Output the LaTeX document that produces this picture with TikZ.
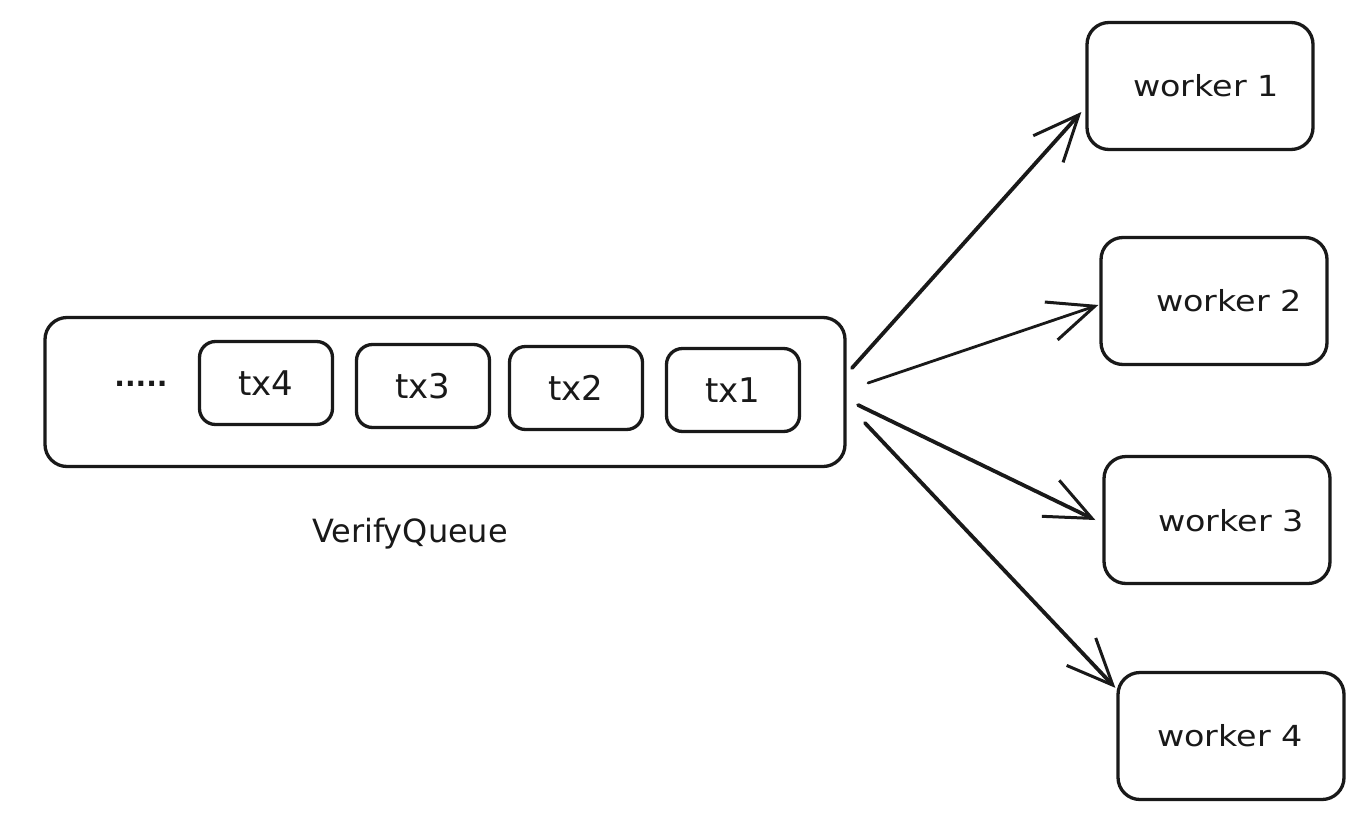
\documentclass[tikz,border=0pt]{standalone}
\usepackage{fontspec}
\setmainfont{DejaVu Sans}
\usetikzlibrary{arrows.meta,calc}
\tikzset{
  box/.style={draw=black!90, line width=3.3pt, rounded corners=22pt, inner sep=0pt},
  txbox/.style={box, minimum width=133pt, minimum height=83pt, rounded corners=16pt},
  wbox/.style={box, minimum width=226pt, minimum height=127pt},
  txlbl/.style={font=\fontsize{34}{40}\selectfont, text=black!90},
  wlbl/.style={font=\fontsize{29}{34}\selectfont, text=black!90, xscale=1.15},
  conn/.style={draw=black!90, line width=3.8pt, line cap=round, -{Straight Barb[length=46pt,width=40pt,line width=3pt]}}
}
\begin{document}
\begin{tikzpicture}[x=1pt,y=-1pt]
\useasboundingbox[fill=white] (0,0) rectangle (1356,822);
\node[box, minimum width=800pt, minimum height=149pt] (q) at (445,392) {};
\node[font=\fontsize{28}{32}\selectfont\bfseries, text=black!90] (dots) at (141,384) {.....};
\node[txbox, txlbl] (t4) at (266,383) {tx4};
\node[txbox, txlbl] (t3) at (423,386) {tx3};
\node[txbox, txlbl] (t2) at (576,388) {tx2};
\node[txbox, txlbl] (t1) at (733,390) {tx1};
\node[font=\fontsize{32}{38}\selectfont, text=black!90] (vq) at (410,534) {VerifyQueue};
\node[wbox] (w1) at (1200,86) {};
\node[wbox] (w2) at (1214,301) {};
\node[wbox] (w3) at (1217,520) {};
\node[wbox] (w4) at (1231,736) {};
\node[wlbl, transform shape] (w1l) at (1206,86) {worker 1};
\node[wlbl, transform shape] (w2l) at (1229,301) {worker 2};
\node[wlbl, transform shape] (w3l) at (1231,521) {worker 3};
\node[wlbl, transform shape] (w4l) at (1230,736) {worker 4};
\coordinate (s1) at (852,368);
\coordinate (s2) at (868,383);
\coordinate (s3) at (858,405);
\coordinate (s4) at (865,423);
\draw[conn] (s1) -- ($(w1.west)+(-4,26)$);
\draw[conn, line width=2.8pt] (s2) -- ($(w2.west)+(-1,4)$);
\draw[conn] (s3) -- ($(w3.west)+(-7,0)$);
\draw[conn] (s4) -- ($(w4.north west)+(-1,17)$);
\end{tikzpicture}
\end{document}
